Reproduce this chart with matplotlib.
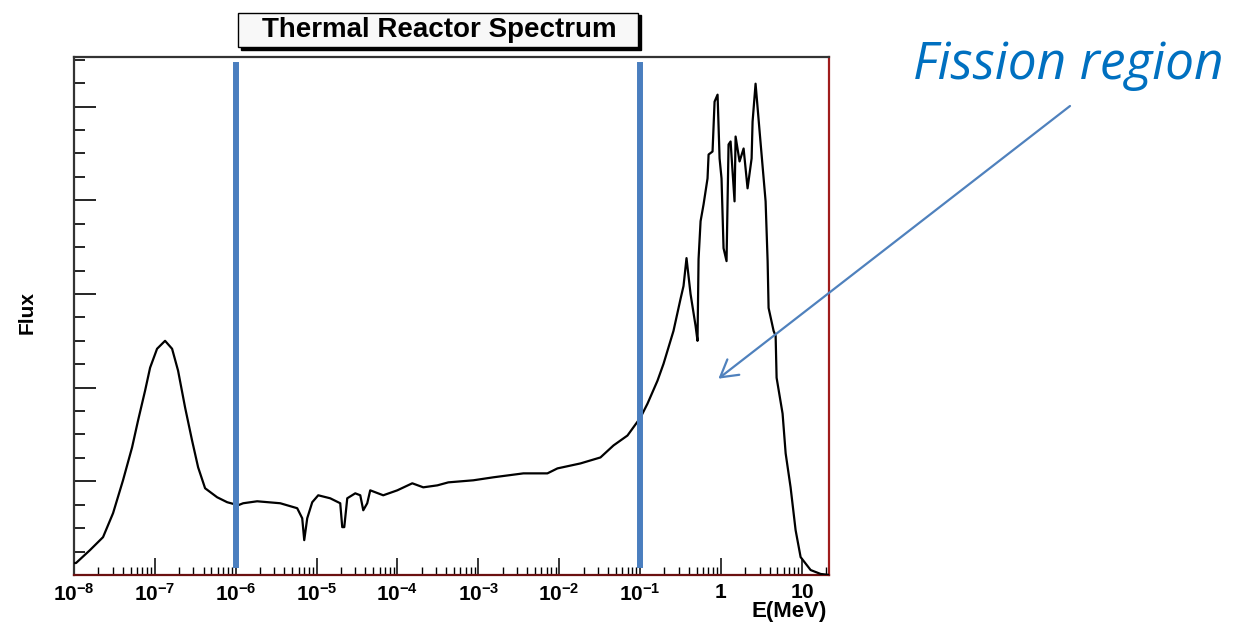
import numpy as np
import matplotlib.pyplot as plt
from matplotlib.patches import Rectangle
from matplotlib.ticker import LogLocator, MultipleLocator, NullFormatter

plt.rcParams['font.family'] = ['Liberation Sans', 'DejaVu Sans']
plt.rcParams['mathtext.fontset'] = 'custom'
plt.rcParams['mathtext.rm'] = 'Liberation Sans'
plt.rcParams['mathtext.bf'] = 'Liberation Sans:bold'

# spectrum: log10(E / MeV) and flux (arbitrary units)
log_energy = [-8.000, -7.975, -7.802, -7.641, -7.517, -7.394, -7.282, -7.208, -7.121,
              -7.059, -6.973, -6.874, -6.787, -6.713, -6.626, -6.540, -6.465, -6.379,
              -6.230, -6.106, -5.970, -5.908, -5.735, -5.450, -5.240, -5.178, -5.153,
              -5.116, -5.054, -4.980, -4.832, -4.708, -4.683, -4.658, -4.621, -4.522,
              -4.460, -4.423, -4.374, -4.337, -4.176, -4.002, -3.817, -3.681, -3.507,
              -3.371, -3.062, -2.814, -2.443, -2.146, -2.022, -1.738, -1.490, -1.329,
              -1.156, -0.995, -0.908, -0.785, -0.710, -0.587, -0.500, -0.463, -0.426,
              -0.376, -0.314, -0.290, -0.277, -0.252, -0.215, -0.166, -0.153, -0.104,
              -0.079, -0.042, -0.017, 0.007, 0.032, 0.069, 0.094, 0.119, 0.168, 0.181,
              0.230, 0.280, 0.329, 0.379, 0.391, 0.428, 0.478, 0.552, 0.577, 0.589,
              0.651, 0.676, 0.688, 0.762, 0.800, 0.861, 0.923, 0.985, 1.109, 1.233, 1.344]
flux = [0.128, 0.128, 0.266, 0.404, 0.660, 1.011, 1.362, 1.649, 1.968,
        2.213, 2.415, 2.500, 2.415, 2.181, 1.787, 1.436, 1.149, 0.926,
        0.830, 0.777, 0.745, 0.766, 0.787, 0.766, 0.713, 0.606, 0.372,
        0.606, 0.777, 0.851, 0.819, 0.766, 0.511, 0.511, 0.819, 0.872,
        0.851, 0.691, 0.766, 0.904, 0.851, 0.904, 0.979, 0.936, 0.957,
        0.989, 1.011, 1.043, 1.085, 1.085, 1.138, 1.191, 1.255, 1.383,
        1.489, 1.681, 1.830, 2.074, 2.255, 2.606, 2.947, 3.085, 3.383,
        3.000, 2.660, 2.500, 3.372, 3.777, 3.957, 4.234, 4.489, 4.521,
        5.053, 5.128, 4.447, 4.234, 3.489, 3.351, 4.596, 4.628, 3.989, 4.681,
        4.415, 4.553, 4.128, 4.447, 4.840, 5.245, 4.734, 3.989, 3.351, 2.851,
        2.606, 2.553, 2.106, 1.723, 1.298, 0.936, 0.479, 0.191, 0.053, 0.011, 0.0]

tick_energies = [1e-8, 1e-7, 1e-6, 1e-5, 1e-4, 1e-3, 1e-2, 1e-1, 1, 10]
tick_labels = [r'$\mathbf{10^{-8}}$', r'$\mathbf{10^{-7}}$', r'$\mathbf{10^{-6}}$',
               r'$\mathbf{10^{-5}}$', r'$\mathbf{10^{-4}}$', r'$\mathbf{10^{-3}}$',
               r'$\mathbf{10^{-2}}$', r'$\mathbf{10^{-1}}$', r'$\mathbf{1}$', r'$\mathbf{10}$']
region_edges = [1e-6, 1e-1]

energy = 10.0 ** np.array(log_energy)

W, H = 1237, 626
fig = plt.figure(figsize=(W / 100, H / 100), dpi=100)
ax = fig.add_axes([74 / W, 1 - 575 / H, (829 - 74) / W, (575 - 57) / H])

ax.plot(energy, flux, color='black', lw=1.6, zorder=3)
ax.set_xscale('log')
ax.set_xlim(1e-8, 10 ** 1.336)
ax.set_ylim(0, 5.53)

ax.set_xticks(tick_energies)
ax.set_xticklabels(tick_labels)
ax.xaxis.set_minor_locator(LogLocator(base=10, subs=np.arange(2, 10), numticks=30))
ax.xaxis.set_minor_formatter(NullFormatter())
ax.tick_params(axis='x', which='major', direction='in', length=12, width=1.1, labelsize=15, pad=6)
ax.tick_params(axis='x', which='minor', direction='in', length=6, width=1.0)

ax.yaxis.set_major_locator(MultipleLocator(1))
ax.yaxis.set_minor_locator(MultipleLocator(0.25))
ax.tick_params(axis='y', which='major', direction='in', length=16, width=1.2, labelleft=False)
ax.tick_params(axis='y', which='minor', direction='in', length=8, width=1.2)

ax.spines['left'].set_color('#333333')
ax.spines['top'].set_color('#333333')
ax.spines['right'].set_color('#a01c1c')
ax.spines['bottom'].set_color('#6b1010')
for s in ax.spines.values():
    s.set_linewidth(1.6)

for e in region_edges:
    ax.axvline(e, ymin=0.02, ymax=0.985, color='#4a7ebf', lw=4.3, zorder=4)

# annotation arrow and label
ax.annotate('', xy=(0.93, 2.096), xycoords='data',
            xytext=(1070 / W, 1 - 106 / H), textcoords='figure fraction',
            arrowprops=dict(arrowstyle='->,head_length=1.2,head_width=0.7',
                            color='#4f81bd', lw=1.6, shrinkA=0, shrinkB=0),
            annotation_clip=False, zorder=5)
fig.text(1068 / W, 1 - 79 / H, 'Fission region', fontsize=37, style='italic',
         color='#0070c0', family='Open Sans', ha='center', va='baseline')

# title box with shadow
fig.patches.append(Rectangle((241 / W, 1 - 50 / H), 400 / W, 35 / H, transform=fig.transFigure,
                             facecolor='black', edgecolor='black', zorder=1))
fig.patches.append(Rectangle((238 / W, 1 - 47 / H), 400 / W, 34 / H, transform=fig.transFigure,
                             facecolor='#f8f8f8', edgecolor='black', lw=1.0, zorder=2))
fig.text(439 / W, 1 - 30 / H, 'Thermal Reactor Spectrum', fontsize=20, fontweight='bold',
         ha='center', va='center', zorder=3)

fig.text(27 / W, 1 - 312 / H, 'Flux', rotation=90, fontsize=15, fontweight='bold',
         ha='center', va='center')
fig.text(789 / W, 1 - 611 / H, 'E(MeV)', fontsize=16, fontweight='bold',
         ha='center', va='center')

fig.savefig('out.png', dpi=100, facecolor='white')
